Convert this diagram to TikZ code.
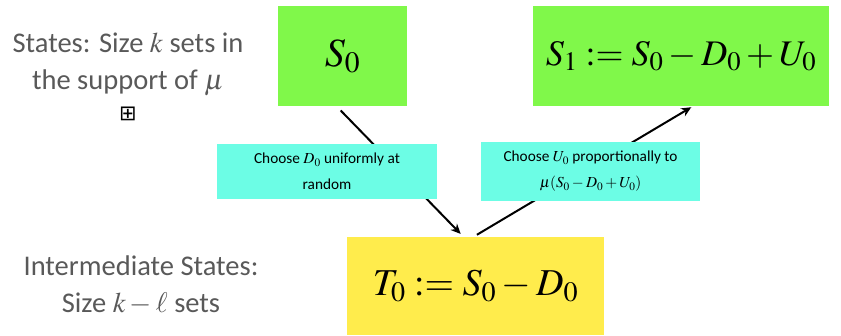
\documentclass[tikz,border=0pt]{standalone}
\usepackage{mathptmx}
\usepackage[no-math]{fontspec}
\setmainfont{Carlito}
\newfontfamily\symfont{DejaVu Sans}
\usetikzlibrary{arrows.meta}
\definecolor{stateGreen}{RGB}{128,248,74}
\definecolor{midYellow}{RGB}{255,236,76}
\definecolor{noteCyan}{RGB}{108,253,229}
\definecolor{labelGray}{RGB}{89,89,89}
\begin{document}
\begin{tikzpicture}[x=1pt,y=-1pt,>=Stealth]
  \tikzset{
    statebox/.style={rectangle,inner sep=0pt,font=\fontsize{40}{44}\selectfont},
    stepnote/.style={rectangle,fill=noteCyan,inner sep=0pt,align=center,
      font=\fontsize{15.3}{26}\selectfont},
    sidelabel/.style={align=center,text=labelGray,font=\fontsize{28.5}{37}\selectfont}
  }
  \useasboundingbox (0,0) rectangle (841,335);

  \node[statebox,fill=stateGreen,minimum width=129pt,minimum height=100pt]
    (S0) at (342.5,56) {$S_0$};
  \node[statebox,fill=stateGreen,minimum width=296pt,minimum height=100pt,
    font=\fontsize{36}{40}\selectfont]
    (S1) at (681,56) {$S_1 := S_0 - D_0 + U_0$};
  \node[statebox,fill=midYellow,minimum width=257pt,minimum height=98pt,
    font=\fontsize{38}{42}\selectfont]
    (T0) at (475.5,286) {$T_0 := S_0 - D_0$};

  \path[line width=2pt]
    ([xshift=-6pt]S0.south) edge[->,shorten <=6pt,shorten >=4pt,
      -{Stealth[length=10pt,width=9pt]}] ([xshift=-12pt]T0.north)
    ([xshift=-2pt]T0.north) edge[shorten <=4pt,shorten >=2pt,
      -{Stealth[length=10pt,width=9pt]}] ([xshift=12pt]S1.south);

  \node[stepnote,minimum width=220pt,minimum height=55pt] (remove) at (327,171.5)
    {Choose $D_0$ uniformly at\\ random};
  \node[stepnote,minimum width=219pt,minimum height=59pt] (add) at (590.5,171.5)
    {Choose $U_0$ proportionally to\\ $\mu(S_0 - D_0 + U_0)$};

  \node[sidelabel] (states) at (128,64) {States: Size $k$ sets in\\ the support of $\mu$};
  \node[text=black,font=\symfont\fontsize{21}{21}\selectfont] (expand) at (128,114) {⊞};
  \node[sidelabel] (inter) at (141,285) {Intermediate States:\\ Size $k-\ell$ sets};
\end{tikzpicture}
\end{document}
